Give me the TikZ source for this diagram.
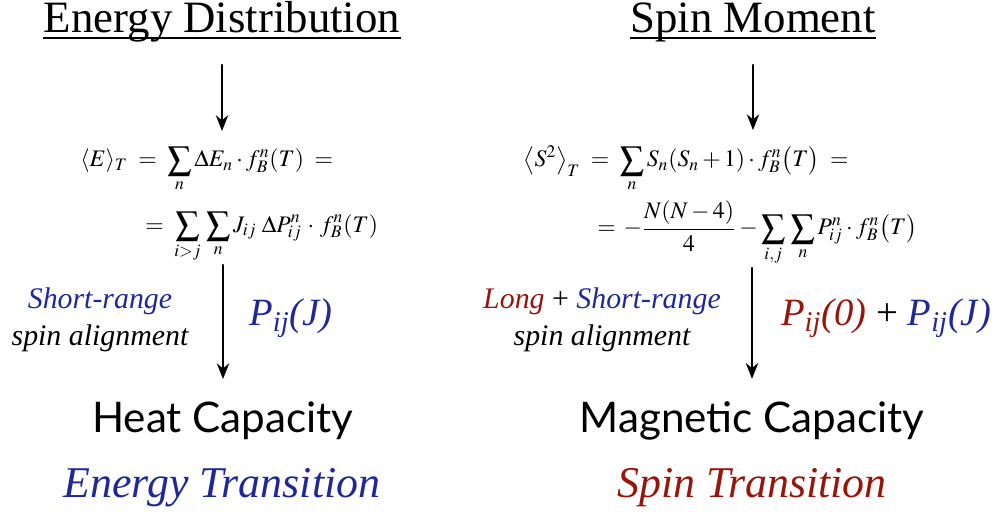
\documentclass[tikz,border=0pt]{standalone}
\usepackage{amsmath}
\usepackage{mathptmx}
\usepackage{fontspec}
\setmainfont{Liberation Serif}
\newfontfamily\capfont{Lato}
\newfontfamily\itser{Liberation Serif Italic}
\usepackage{tikz}
\usetikzlibrary{arrows.meta, positioning}
\definecolor{ebl}{RGB}{32,40,150}
\definecolor{sred}{RGB}{150,22,12}

\begin{document}
\begin{tikzpicture}[x=0.02cm, y=-0.02cm, line join=round, line cap=round]
   % Styles
   \tikzset{
    hd/.style={inner sep=0pt, anchor=base, font=\fontsize{25.5}{28}\selectfont},
    uline/.style={line width=0.9pt, line cap=butt},
    eqn/.style={anchor=base west, inner sep=0pt, font=\fontsize{13.5}{16}\selectfont},
    lab/.style={inner sep=0pt, align=center, font=\fontsize{17}{21}\selectfont\itser},
    pij/.style={inner sep=0pt, font=\fontsize{22}{24}\selectfont\itser},
    capbox/.style={inner sep=0pt, font=\fontsize{24}{26}\selectfont\capfont},
    trans/.style={inner sep=0pt, font=\fontsize{25}{28}\selectfont\itser},
    arr/.style={line width=1.3pt, -{Stealth[length=9pt, width=7pt]}}
   }
  \useasboundingbox (0,0) rectangle (1001,517);
  % Titles
  \node[hd] (hdE) at (222,33) {Energy Distribution};
  \node[hd] (hdS) at (753,33) {Spin Moment};
  \draw[uline] ([yshift=-3pt]hdE.base west) -- ([yshift=-3pt]hdE.base east);
  \draw[uline] ([yshift=-3pt]hdS.base west) -- ([yshift=-3pt]hdS.base east);
  % Formulas
  \node[eqn] (eqE1) at (80,167) {$\displaystyle \langle E\rangle_T \;=\; \sum_n \Delta E_n\cdot f_B^n(T) \;=$};
  \node[eqn] (eqE2) at (145,232) {$\displaystyle =\; \sum_{i>j}\,\sum_n J_{ij}\;\Delta P_{ij}^n\,\cdot\, f_B^n(T)$};
  \node[eqn] (eqS1) at (523,167) {$\displaystyle \left\langle S^2\right\rangle_T \;=\; \sum_n S_n(S_n+1)\cdot f_B^n\bigl(T\bigr) \;=$};
  \node[eqn] (eqS2) at (597,235) {$\displaystyle =\, -\frac{N(N-4)}{4} - \sum_{i,j}\,\sum_n P_{ij}^n\cdot f_B^n\bigl(T\bigr)$};
  % Labels
  \node[lab] (labE) at (100,320) {\textcolor{ebl}{Short-range}\\spin alignment};
  \node[pij, text=ebl] (pE) at (291,318) {P\textsubscript{ij}(J)};
  \node[lab] (labS) at (602,320) {\textcolor{sred}{Long} {\rmfamily+} \textcolor{ebl}{Short-range}\\spin alignment};
  \node[pij] (pS) at (886,318) {\textcolor{sred}{P\textsubscript{ij}(0)} {\rmfamily+} \textcolor{ebl}{P\textsubscript{ij}(J)}};
  % Capacities
  \node[capbox] (capE) at (223,421) {Heat Capacity};
  \node[capbox] (capS) at (752,421) {Magnetic Capacity};
  \node[trans, text=ebl] (trE) at (222,488) {Energy Transition};
  \node[trans, text=sred] (trS) at (752,488) {Spin Transition};
  % Arrows
  \draw[arr, shorten <=0.64cm, shorten >=0.3cm] (hdE.base) -- (hdE.base |- eqE1.north);
  \draw[arr, shorten <=0.64cm, shorten >=0.3cm] (hdS.base) -- (hdS.base |- eqS1.north);
  \draw[arr, shorten <=0.05cm, shorten >=0.45cm] (capE.north |- eqE2.south) -- (capE.north);
  \draw[arr, shorten <=0.05cm, shorten >=0.45cm] (capS.north |- eqS2.south) -- (capS.north);
\end{tikzpicture}
\end{document}
